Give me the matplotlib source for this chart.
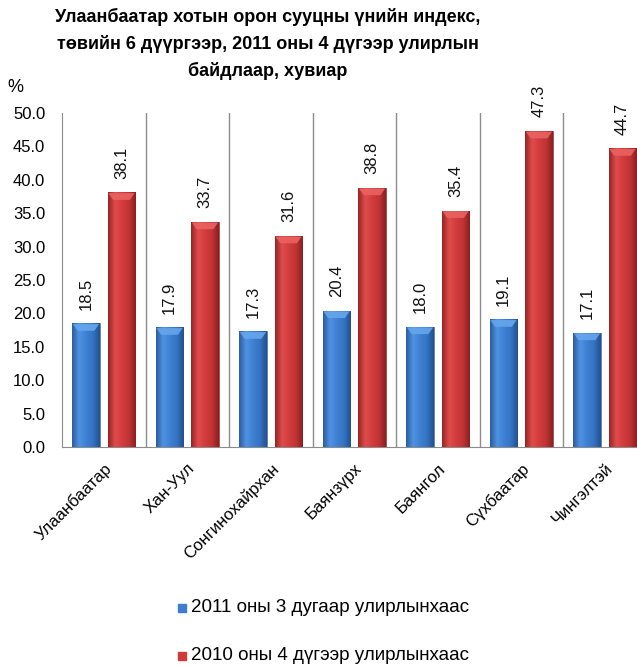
import matplotlib
matplotlib.use("Agg")
import matplotlib.pyplot as plt
import numpy as np
from matplotlib.colors import LinearSegmentedColormap
from matplotlib.patches import Rectangle, Polygon

categories = ["Улаанбаатар", "Хан-Уул", "Сонгинохайрхан", "Баянзүрх", "Баянгол", "Сүхбаатар", "Чингэлтэй"]
q3_2011 = [18.5, 17.9, 17.3, 20.4, 18.0, 19.1, 17.1]
q4_2010 = [38.1, 33.7, 31.6, 38.8, 35.4, 47.3, 44.7]
series_names = ["2011 оны 3 дугаар улирлынхаас", "2010 оны 4 дүгээр улирлынхаас"]
yticks = [0, 5, 10, 15, 20, 25, 30, 35, 40, 45, 50]
title = "Улаанбаатар хотын орон сууцны үнийн индекс,\nтөвийн 6 дүүргээр, 2011 оны 4 дүгээр улирлын\nбайдлаар, хувиар"

plt.rcParams['font.family'] = ['Liberation Sans', 'DejaVu Sans']

W, H = 637, 668
fig = plt.figure(figsize=(W/100, H/100), dpi=100)
left, right, top, bottom = 62, 646.5, 113, 447
ax = fig.add_axes([left/W, 1-bottom/H, (right-left)/W, (bottom-top)/H])

x = np.arange(len(categories))
width = 0.335
cm_blue = LinearSegmentedColormap.from_list("b", ["#2b5c9e", "#4f93e2", "#3f80d2", "#3474c4", "#24508e"])
cm_red = LinearSegmentedColormap.from_list("r", ["#962424", "#e04c4c", "#d23c3c", "#c23434", "#8a2020"])

b1 = ax.bar(x - 0.2125, q3_2011, width, color="#3c7dd0", edgecolor="#5b7fa8", linewidth=0.6, zorder=2)
b2 = ax.bar(x + 0.2125, q4_2010, width, color="#cf3a3a", edgecolor="#9a4a4a", linewidth=0.6, zorder=2)

grad = np.linspace(0, 1, 64).reshape(1, -1)
for bars, cmap, cap in ((b1, cm_blue, "#66a6ee"), (b2, cm_red, "#ea6262")):
    for p in bars:
        x0, y0 = p.get_x(), p.get_y()
        w, h = p.get_width(), p.get_height()
        im = ax.imshow(grad, cmap=cmap, aspect="auto", extent=(x0, x0 + w, y0, y0 + h), zorder=2.5, interpolation="bicubic")
        im.set_clip_path(p)
        top_y = y0 + h
        ax.add_patch(Polygon([(x0 + w*0.03, top_y - 0.1), (x0 + w*0.97, top_y - 0.1),
                              (x0 + w*0.8, top_y - 1.1), (x0 + w*0.2, top_y - 1.1)],
                             closed=True, color=cap, lw=0, zorder=2.6, alpha=0.9))

for bars, vals in ((b1, q3_2011), (b2, q4_2010)):
    for p, v in zip(bars, vals):
        ax.annotate(f"{v:.1f}", (p.get_x() + p.get_width()/2, v), xytext=(0, 10), textcoords="offset points",
                    rotation=90, ha="center", va="bottom", fontsize=12, annotation_clip=False, color="#111111")

ax.set_xlim(-0.5, len(categories) - 0.5)
ax.set_ylim(0, 50)
ax.set_yticks(yticks)
ax.set_yticklabels([f"{v:.1f}" for v in yticks], fontsize=12)
ax.tick_params(axis="y", length=0, pad=12)
ax.set_xticks(x)
ax.set_xticklabels(categories, rotation=45, ha="right", rotation_mode="anchor", fontsize=12)
ax.tick_params(axis="x", length=0, pad=10)
for s in ("top", "right"):
    ax.spines[s].set_visible(False)
ax.spines["left"].set_color("#8c8c8c")
ax.spines["bottom"].set_color("#8c8c8c")
for i in range(1, len(categories)):
    ax.axvline(i - 0.5, color="#8c8c8c", lw=1, zorder=1)

fig.text(268/W, 1 - 8/H, title, ha="center", va="top", fontsize=13, fontweight="bold", linespacing=1.65)
fig.text(15/W, 1 - 88/H, "%", ha="center", va="center", fontsize=13)

for i, (name, col) in enumerate(zip(series_names, ["#3c7dd0", "#cf3a3a"])):
    yy = 1 - (607 + i*48)/H
    fig.patches.append(Rectangle((178/W, yy - 5/H), 8/W, 8/H, transform=fig.transFigure, color=col, figure=fig))
    fig.text(191/W, yy, name, ha="left", va="center", fontsize=13.5)

fig.savefig("out.png", dpi=100)
